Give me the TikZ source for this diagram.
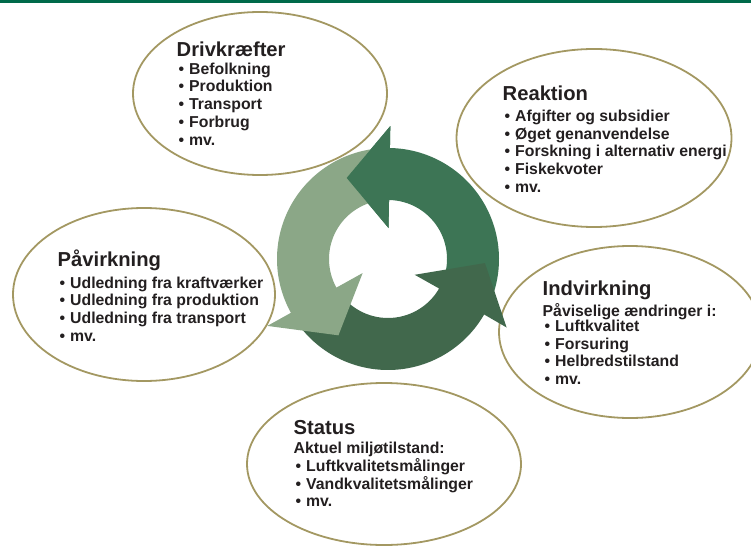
\documentclass[tikz,border=0pt]{standalone}
\usepackage{fontspec}
\setmainfont{Liberation Sans}
\usepackage{xcolor}
\usepackage{tikz}
\usetikzlibrary{shapes.geometric}
\definecolor{bargreen}{RGB}{0,106,74}
\definecolor{olive}{RGB}{163,152,98}
\definecolor{ringmid}{RGB}{61,117,85}
\definecolor{ringdark}{RGB}{65,104,76}
\definecolor{ringlight}{RGB}{139,167,135}
\definecolor{ink}{RGB}{35,31,32}
\newcommand{\bubhead}[1]{{\fontsize{20.2}{24}\selectfont #1}}
\newcommand{\itm}[1]{\hspace*{2pt}\makebox[10.5pt][l]{\textbullet}#1}

\begin{document}
\begin{tikzpicture}[
    x=1pt, y=1pt,
    bubble/.style={draw=olive, line width=1.8pt, ellipse, inner sep=0pt},
    txt/.style={anchor=north west, inner sep=0pt, align=left, text=ink, font=\fontsize{15.8}{17.7}\selectfont\bfseries}
  ]
    \useasboundingbox (0,0) rectangle (751,547);
    \fill[bargreen] (0,544) rectangle (751,547);

    \node[bubble, minimum width=254pt, minimum height=163pt] (driv) at (260,453.5) {};
    \node[bubble, minimum width=275pt, minimum height=178pt] (reak) at (594,409) {};
    \node[bubble, minimum width=262pt, minimum height=173pt] (paav) at (144,252.5) {};
    \node[bubble, minimum width=262pt, minimum height=172pt] (indv) at (630,215) {};
    \node[bubble, minimum width=274pt, minimum height=162pt] (stat) at (384,83) {};

    \begin{scope}[shift={(388,288)}]
      \fill[ringmid] (-22:111) arc[start angle=-22, end angle=89, radius=111] -- (89:133) -- (117:91) -- (89:31) -- (89:59) arc[start angle=89, end angle=-22, radius=59] -- cycle;
      \fill[ringdark] (215:111) arc[start angle=215, end angle=330, radius=111] -- (330:137) -- (357.6:97) -- (329.4:31) -- (330:59) arc[start angle=330, end angle=215, radius=59] -- cycle;
      \fill[ringlight] (94:111) arc[start angle=94, end angle=209, radius=111] -- (209:138) -- (237:91) -- (209:29) -- (209:59) arc[start angle=209, end angle=94, radius=59] -- cycle;
      \fill[ringmid] (89:133) -- (117:91) -- (89:31) -- cycle;
    \end{scope}

    \node[txt] (drivtxt) at (176.5,505.3) {\bubhead{Drivkræfter}\\
      \itm{Befolkning}\\ \itm{Produktion}\\ \itm{Transport}\\ \itm{Forbrug}\\ \itm{mv.}};
    \node[txt] (reaktxt) at (502.5,461.3) {\bubhead{Reaktion}\\[3.3pt]
      \itm{Afgifter og subsidier}\\ \itm{Øget genanvendelse}\\ \itm{Forskning i alternativ energi}\\ \itm{Fiskekvoter}\\ \itm{mv.}};
    \node[txt] (paavtxt) at (57.5,297.4) {\bubhead{Påvirkning}\\[4pt]
      \itm{Udledning fra kraftværker}\\ \itm{Udledning fra produktion}\\ \itm{Udledning fra transport}\\ \itm{mv.}};
    \node[txt] (indvtxt) at (542.5,266.3) {\bubhead{Indvirkning}\\[3pt]
      Påviselige ændringer i:\\[-2.4pt] \itm{Luftkvalitet}\\ \itm{Forsuring}\\ \itm{Helbredstilstand}\\ \itm{mv.}};
    \node[txt] (stattxt) at (293.5,127.3) {\bubhead{Status}\\[2pt]
      Aktuel miljøtilstand:\\ \itm{Luftkvalitetsmålinger}\\ \itm{Vandkvalitetsmålinger}\\ \itm{mv.}};
  \end{tikzpicture}
\end{document}
